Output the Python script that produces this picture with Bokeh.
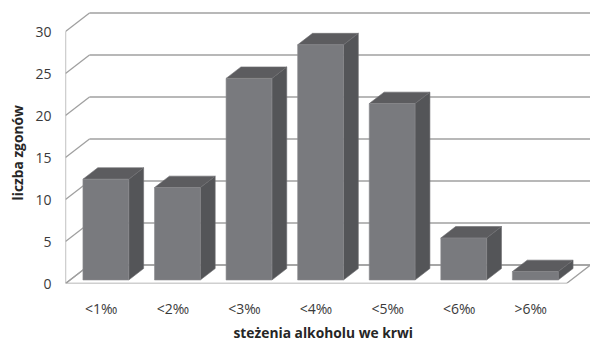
from bokeh.embed import file_html
from bokeh.models import FixedTicker, Range1d, Title
from bokeh.plotting import figure
from bokeh.resources import INLINE

# Deaths by blood alcohol concentration
categories = ["<1‰", "<2‰", "<3‰", "<4‰", "<5‰", "<6‰", ">6‰"]
deaths = [12, 11, 24, 28, 21, 5, 1]
y_ticks = [0, 5, 10, 15, 20, 25, 30]

n = len(categories)
y_top = y_ticks[-1]

# oblique depth vector of the 3-D box (data units)
DX, DY = 0.335, 2.2
# column footprint inside each category slot
BAR_W = 0.64
F0, F1 = 0.19, 0.81
SIDE = F1 - F0

FONT = "Open Sans"
GRID = "#a0a0a0"

p = figure(
    width=590, height=343,
    x_range=Range1d(0, n + DX), y_range=Range1d(0, 32.5),
    output_backend="svg", toolbar_location=None,
    min_border_left=64, min_border_right=0,
    min_border_top=10, min_border_bottom=60,
)
p.outline_line_color = None
p.xgrid.visible = False
p.ygrid.visible = False

# floor of the box
p.patch([0, n, n + DX, DX], [0, 0, DY, DY],
        fill_color="white", line_color=GRID, line_width=1.3)

# left wall edge and gridlines (diagonal on the side wall, horizontal on the back wall)
p.segment(x0=[0], y0=[0], x1=[0], y1=[y_top], line_color=GRID, line_width=1.3)
gx0, gy0, gx1, gy1 = [], [], [], []
for t in y_ticks:
    gx0 += [0, DX]
    gy0 += [t, t + DY]
    gx1 += [DX, n + DX]
    gy1 += [t + DY, t + DY]
p.segment(x0=gx0, y0=gy0, x1=gx1, y1=gy1, line_color=GRID, line_width=1.3)

# 3-D columns: front, side and top faces
front_x, front_y, side_x, side_y, top_x, top_y = [], [], [], [], [], []
for i, v in enumerate(deaths):
    x0 = i + (1 - BAR_W) / 2 + F0 * DX
    x1 = x0 + BAR_W
    y0 = F0 * DY
    y1 = y0 + v
    ox, oy = SIDE * DX, SIDE * DY
    front_x.append([x0, x1, x1, x0])
    front_y.append([y0, y0, y1, y1])
    side_x.append([x1, x1 + ox, x1 + ox, x1])
    side_y.append([y0, y0 + oy, y1 + oy, y1])
    top_x.append([x0, x1, x1 + ox, x0 + ox])
    top_y.append([y1, y1, y1 + oy, y1 + oy])

p.patches(side_x, side_y, fill_color="#545558", line_color="#6d6d70", line_width=0.6)
p.patches(top_x, top_y, fill_color="#5c5c5f", line_color="#6d6d70", line_width=0.6)
p.patches(front_x, front_y, fill_color="#797a7e", line_color="#8a8a8d", line_width=0.6)

# axes
for ax in (p.xaxis, p.yaxis):
    ax.axis_line_color = None
    ax.major_tick_line_color = None
    ax.minor_tick_line_color = None
    ax.major_tick_out = 0
    ax.major_tick_in = 0
    ax.minor_tick_out = 0
    ax.major_label_text_font = FONT
    ax.major_label_text_font_size = "14px"
    ax.major_label_text_color = "#3a3a3a"

p.yaxis.ticker = FixedTicker(ticks=y_ticks)
p.yaxis.major_label_standoff = 14

p.xaxis.ticker = FixedTicker(ticks=[i + 0.5 for i in range(n)])
p.xaxis.major_label_overrides = {i + 0.5: c for i, c in enumerate(categories)}
p.xaxis.major_label_standoff = 15

# axis titles
p.add_layout(Title(text="steżenia alkoholu we krwi", align="left", offset=168,
                   standoff=0, text_font=FONT, text_font_size="13.8px",
                   text_font_style="bold", text_color="#262626"), "below")
p.add_layout(Title(text="liczba zgonów", align="left", offset=83,
                   standoff=11, text_font=FONT, text_font_size="13.8px",
                   text_font_style="bold", text_color="#262626"), "left")

open("out.html", "w").write(file_html(p, INLINE))
